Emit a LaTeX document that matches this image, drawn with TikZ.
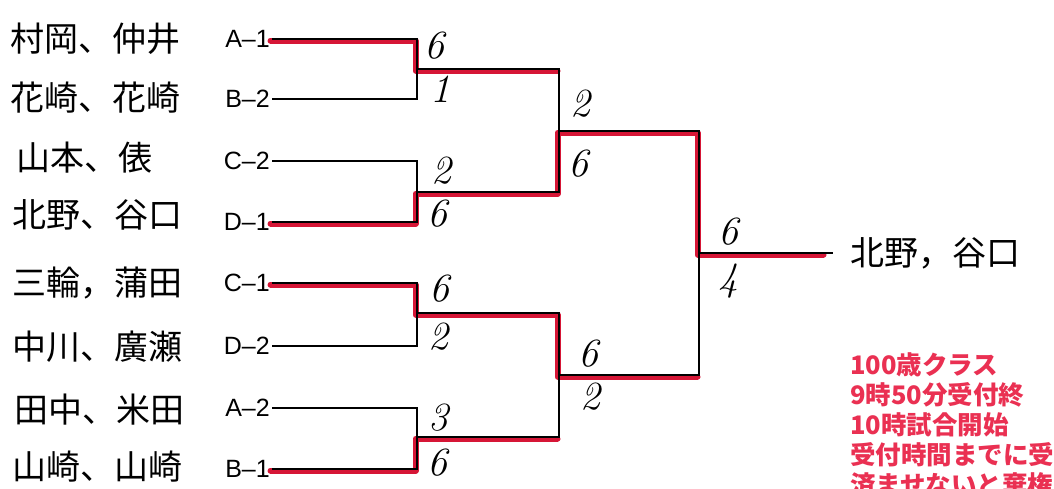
\documentclass[tikz,border=0pt]{standalone}
\usepackage{fontspec}
\newfontfamily\arial{Liberation Sans}
\newfontfamily\jp{Noto Sans CJK JP}
\definecolor{hlred}{RGB}{214,22,54}
\definecolor{txtred}{RGB}{234,48,82}
\begin{document}
\begin{tikzpicture}[x=1pt,y=-1pt,
  lab/.style={font=\arial\fontsize{25}{25}\selectfont, anchor=east, inner sep=2pt},
  hand/.style={font=\jp\fontsize{34}{34}\selectfont, anchor=west, inner sep=0pt},
  score/.style={font=\itshape\fontsize{40}{40}\selectfont, inner sep=0pt},
  bline/.style={line width=1.8pt, black},
  win/.style={line width=6pt, hlred, line cap=round, line join=round,
              transform canvas={xshift=-1.5pt,yshift=-1.5pt}},
  note/.style={font=\jp\bfseries\fontsize{25.5}{25.5}\selectfont, text=txtred, anchor=base west, inner sep=0pt}]
\useasboundingbox (0,0) rectangle (1054,488);
\clip (0,0) rectangle (1054,488);
\fill[white] (0,0) rectangle (1054,488);

% handwritten names
\node[hand] (n1) at (10,39)  {村岡、仲井};
\node[hand] (n2) at (10,98)  {花崎、花崎};
\node[hand] (n3) at (16,158) {山本、俵};
\node[hand] (n4) at (12,215) {北野、谷口};
\node[hand] (n5) at (12,283) {三輪，蒲田};
\node[hand] (n6) at (12,347) {中川、廣瀬};
\node[hand] (n7) at (14,410) {田中、米田};
\node[hand] (n8) at (12,467) {山崎、山崎};

% seed labels
\node[lab] (a1) at (272,39)  {A–1};
\node[lab] (b2) at (272,99)  {B–2};
\node[lab] (c2) at (272,161) {C–2};
\node[lab] (d1) at (272,222) {D–1};
\node[lab] (c1) at (272,283) {C–1};
\node[lab] (d2) at (272,346) {D–2};
\node[lab] (a2) at (272,408) {A–2};
\node[lab] (b1) at (272,469) {B–1};

% junctions
\coordinate (m1) at (417,69);
\coordinate (m2) at (417,192);
\coordinate (m3) at (417,313);
\coordinate (m4) at (417,437);
\coordinate (s1) at (559,131);
\coordinate (s2) at (559,375);
\coordinate (f)  at (699,253);
\coordinate (w)  at (833,253);

% winners' path (red)
\draw[win] (a1.east) -| (m1) -- (m1 -| s1);
\draw[win] (d1.east) -| (m2) -| (s1) -| (f) -- ([xshift=-8pt]w);
\draw[win] (c1.east) -| (m3) -| (s2) -- (s2 -| f);
\draw[win] (b1.east) -| (m4) -- (m4 -| s2);

% bracket (black)
\draw[bline] (a1.east) -| (m1);
\draw[bline] (b2.east) -| (m1);
\draw[bline] (c2.east) -| (m2);
\draw[bline] (d1.east) -| (m2);
\draw[bline] (c1.east) -| (m3);
\draw[bline] (d2.east) -| (m3);
\draw[bline] (a2.east) -| (m4);
\draw[bline] (b1.east) -| (m4);
\draw[bline] (m1) -| (s1);
\draw[bline] (m2) -| (s1);
\draw[bline] (m3) -| (s2);
\draw[bline] (m4) -| (s2);
\draw[bline] (s1) -| (f);
\draw[bline] (s2) -| (f);
\draw[bline] (f) -- (w);

% scores
\node[score] (sc1a) at (434,46)  {6};
\node[score] (sc1b) at (440,89)  {1};
\node[score] (sc2a) at (441,171) {2};
\node[score] (sc2b) at (437,214) {6};
\node[score] (sc3a) at (439,289) {6};
\node[score] (sc3b) at (438,337) {2};
\node[score] (sc4a) at (438,418) {3};
\node[score] (sc4b) at (437,463) {6};
\node[score] (sc5a) at (580,104) {2};
\node[score] (sc5b) at (578,164) {6};
\node[score] (sc6a) at (588,354) {6};
\node[score] (sc6b) at (590,397) {2};
\node[score] (sc7a) at (728,232) {6};
\node[score] (sc7b) at (728,281) {4};

% winner
\node[hand] (win) at (850,253) {北野，谷口};

% note
\node[note] (r1) at (850,374) {100歳クラス};
\node[note] (r2) at (850,404) {9時50分受付終};
\node[note] (r3) at (850,434) {10時試合開始};
\node[note] (r4) at (850,464) {受付時間までに受};
\node[note] (r5) at (850,494) {済ませないと棄権};
\end{tikzpicture}
\end{document}
